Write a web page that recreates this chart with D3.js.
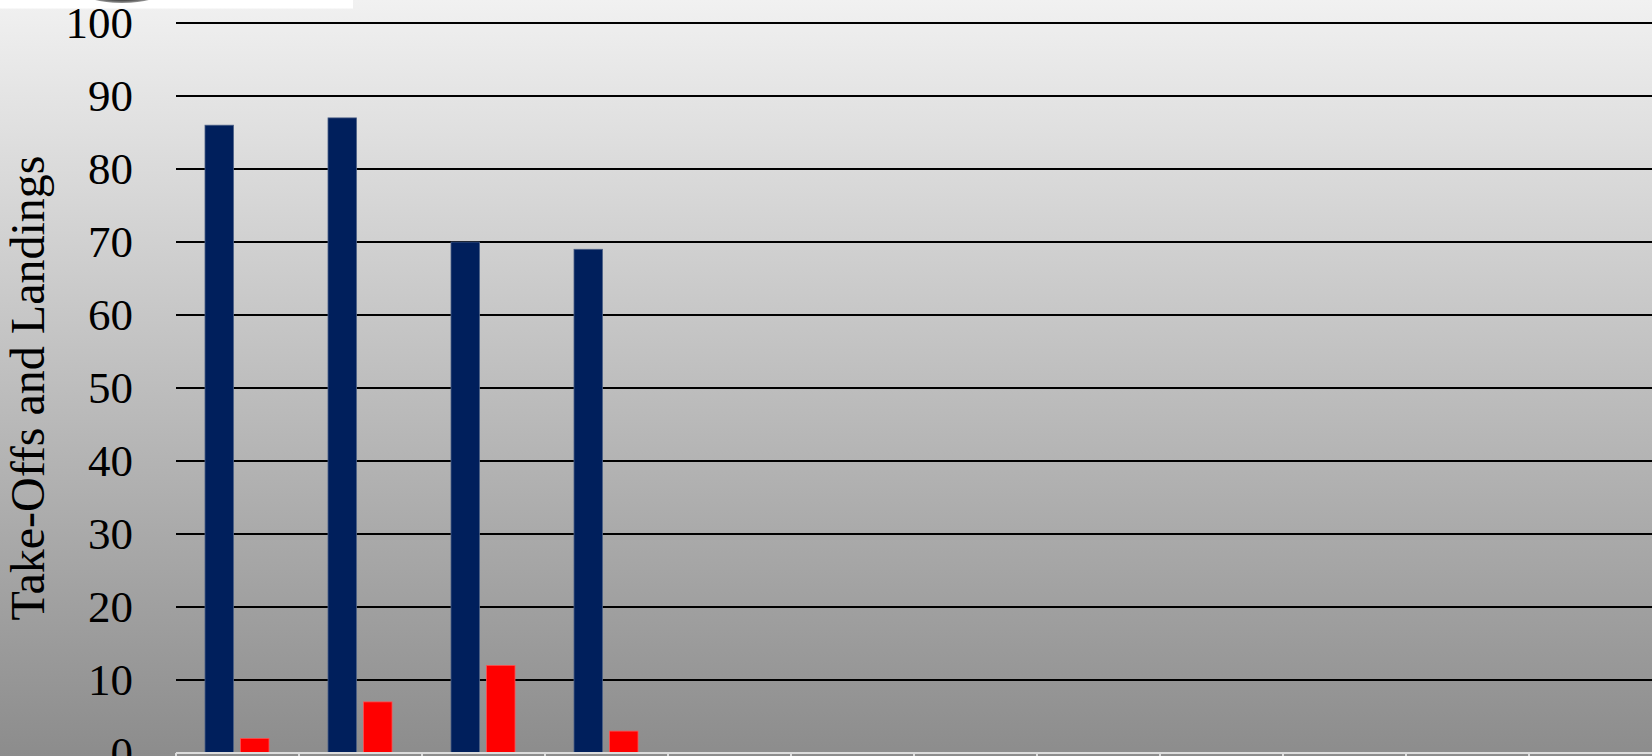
<!DOCTYPE html>
<html>
<head>
<meta charset="utf-8">
<script src="https://cdnjs.cloudflare.com/ajax/libs/d3/7.8.5/d3.min.js"></script>
<style>
  html, body { margin: 0; padding: 0; overflow: hidden; background: #fff; }
  svg { display: block; }
</style>
</head>
<body>
<svg id="chart" width="1652" height="756"></svg>
<script>
// ---- Data ----
const categories = ["Jan", "Feb", "Mar", "Apr", "May", "Jun", "Jul", "Aug", "Sep", "Oct", "Nov", "Dec"];
const seriesNames = ["Series 1", "Series 2"];
const series1 = [86, 87, 70, 69];
const series2 = [2, 7, 12, 3];
const yTicks = [0, 10, 20, 30, 40, 50, 60, 70, 80, 90, 100];
const yTitle = "Take-Offs and Landings";
const colors = ["#001F5C", "#FF0000"];

// ---- Layout ----
const W = 1652, H = 756;
const plot = { left: 176, right: 1652, top: 23, bottom: 753 };

const svg = d3.select("#chart");
const defs = svg.append("defs");

const bg = defs.append("linearGradient").attr("id", "bg")
  .attr("x1", 0).attr("y1", 0).attr("x2", 0).attr("y2", 1);
bg.append("stop").attr("offset", "0%").attr("stop-color", "#f1f1f1");
bg.append("stop").attr("offset", "100%").attr("stop-color", "#8c8c8c");

const blob = defs.append("radialGradient").attr("id", "blob");
blob.append("stop").attr("offset", "0%").attr("stop-color", "#1a1a1a");
blob.append("stop").attr("offset", "80%").attr("stop-color", "#3a3a3a");
blob.append("stop").attr("offset", "100%").attr("stop-color", "#9a9a9a");

svg.append("rect").attr("x", 0).attr("y", 0).attr("width", W).attr("height", H)
  .attr("fill", "url(#bg)");

// top-left remnant of a header element
svg.append("rect").attr("x", 0).attr("y", 0).attr("width", 353).attr("height", 8.5).attr("fill", "#ffffff");
svg.append("ellipse").attr("cx", 122).attr("cy", -13).attr("rx", 46).attr("ry", 16)
  .attr("fill", "url(#blob)");

// ---- Scales ----
const x0 = d3.scaleBand().domain(categories).range([plot.left, plot.left + 123 * categories.length]).padding(0);
const x1 = d3.scaleBand().domain(seriesNames).range([29, 93]).paddingInner(0.2).paddingOuter(0);
const y = d3.scaleLinear().domain([0, 100]).range([plot.bottom, plot.top]);

// ---- Gridlines ----
svg.append("g").selectAll("line").data(yTicks.filter(d => d > 0)).join("line")
  .attr("x1", plot.left).attr("x2", plot.right)
  .attr("y1", d => y(d)).attr("y2", d => y(d))
  .attr("stroke", "#000").attr("stroke-width", 2.2);

// ---- Bars ----
const rows = categories.map((c, i) => ({
  cat: c,
  values: [series1[i], series2[i]]
})).filter(r => r.values[0] !== undefined);

const g = svg.append("g");
rows.forEach(r => {
  r.values.forEach((v, j) => {
    if (v === undefined) return;
    g.append("rect")
      .attr("x", x0(r.cat) + x1(seriesNames[j]))
      .attr("y", y(v))
      .attr("width", x1.bandwidth())
      .attr("height", y(0) - y(v))
      .attr("fill", colors[j])
      .attr("stroke", j === 0 ? "#4a5f86" : "#ff5050")
      .attr("stroke-width", 0.8);
  });
});

// ---- X axis ----
svg.append("line").attr("x1", plot.left).attr("x2", plot.right)
  .attr("y1", 753).attr("y2", 753).attr("stroke", "#dcdcdc").attr("stroke-width", 2.2);
const bounds = categories.map(c => x0(c));
svg.append("g").selectAll("line").data(bounds).join("line")
  .attr("x1", d => d).attr("x2", d => d)
  .attr("y1", 753).attr("y2", H + 2)
  .attr("stroke", "#dcdcdc").attr("stroke-width", 2);

// ---- Y axis labels ----
svg.append("g").selectAll("text").data(yTicks).join("text")
  .attr("x", 133).attr("y", d => y(d))
  .attr("text-anchor", "end").attr("dominant-baseline", "central")
  .attr("font-family", "Liberation Serif, Times New Roman, serif")
  .attr("font-size", 45).attr("fill", "#000")
  .text(d => d);

// ---- Y title ----
svg.append("text")
  .attr("transform", "translate(43.5,388) rotate(-90)")
  .attr("text-anchor", "middle")
  .attr("font-family", "Liberation Serif, Times New Roman, serif")
  .attr("font-size", 48).attr("fill", "#000")
  .text(yTitle);
</script>
</body>
</html>
